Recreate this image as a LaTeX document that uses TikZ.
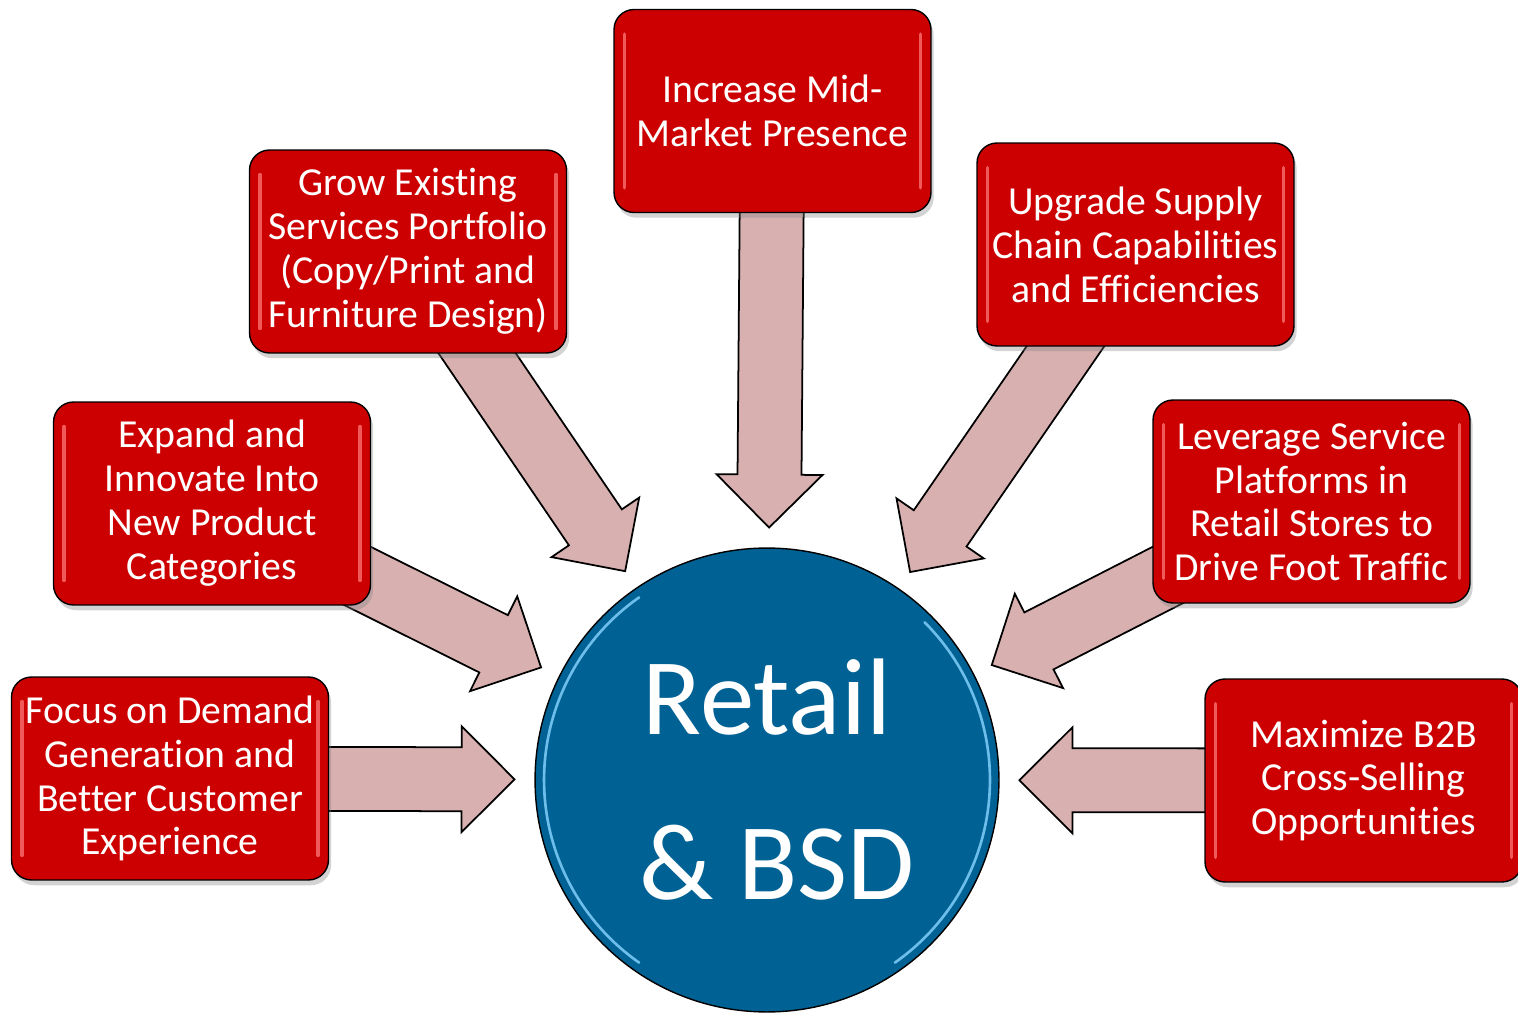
\documentclass[tikz,border=0pt]{standalone}
\usepackage{fontspec}
\setmainfont{Carlito}[Ligatures=NoCommon]
\usepackage{tikz}
\usetikzlibrary{calc}
\usetikzlibrary{positioning}
\usetikzlibrary{shadows,backgrounds}

\definecolor{boxRed}{RGB}{204,0,0}
\definecolor{boxShineRed}{RGB}{240,90,90}
\definecolor{hubBlue}{RGB}{0,98,148}
\definecolor{hubShine}{RGB}{110,190,235}
\definecolor{arrowPink}{RGB}{217,176,176}

\begin{document}
\begin{tikzpicture} [x=0.02cm, y=-0.02cm]
            % Set primary nodes
            \tikzset{
                goalNode/.style={
                        draw=black,
                        line width=0.8pt,
                        fill=boxRed,
                        rounded corners=0.4cm,
                        minimum width=6.34cm,
                        minimum height=4.06cm,
                        inner sep=2pt,
                        align=center,
                        text=white,
                        font=\fontsize{22.6}{25}\selectfont,
                        drop shadow={shadow xshift=1.5pt, shadow yshift=-3pt, opacity=0.35},
                        path picture={
                                \draw[boxShine] ([xshift=6pt,yshift=-14pt]path picture bounding box.north west) -- ([xshift=6pt,yshift=14pt]path picture bounding box.south west);
                                \draw[boxShine] ([xshift=-6pt,yshift=-14pt]path picture bounding box.north east) -- ([xshift=-6pt,yshift=14pt]path picture bounding box.south east);
                            }
                    }
            }
            \tikzset{
                boxShine/.style={
                        boxShineRed,
                        line width=2pt,
                        line cap=round
                    }
            }
            \tikzset{
                hubNode/.style={
                        draw=black,
                        line width=0.8pt,
                        circle,
                        fill=hubBlue,
                        minimum size=9.28cm,
                        align=center,
                        text=white,
                        font=\fontsize{62}{91}\selectfont
                    }
            }
            \tikzset{
                fatArrow/.style={
                        draw=black,
                        line width=1pt,
                        fill=arrowPink
                    }
            }
            % Placing nodes
            \useasboundingbox (0,0) rectangle (1518,1013);
            \node[hubNode](hub) at (767,780){\raisebox{0.2cm}{Retail}\\[-0.1cm]\hspace*{0.4cm}\& BSD};
            \node[goalNode](mid) at (772.5,111){Increase Mid-\\Market Presence};
            \node[goalNode](grow) at (408,251.5){Grow Existing\\Services Portfolio\\(Copy/Print and\\Furniture Design)};
            \node[goalNode](upgrade) at (1135.5,244.5){Upgrade Supply\\Chain Capabilities\\and Efficiencies};
            \node[goalNode](expand) at (212,503.5){Expand and\\Innovate Into\\New Product\\Categories};
            \node[goalNode](leverage) at (1311.5,501.5){Leverage Service\\Platforms in\\Retail Stores to\\Drive Foot Traffic};
            \node[goalNode](focus) at (170,778.5){Focus on Demand\\Generation and\\Better Customer\\Experience};
            \node[goalNode](maximize) at (1363.5,780.5){Maximize B2B\\Cross-Selling\\Opportunities};
            % Shine on the hub
            \draw[hubShine, line width=1.5pt, line cap=round] (hub.center) ++(125:4.46cm) arc[start angle=125, end angle=235, radius=4.46cm];
            \draw[hubShine, line width=1.5pt, line cap=round] (hub.center) ++(-55:4.46cm) arc[start angle=-55, end angle=45, radius=4.46cm];
            % Draw arrows
            \begin{pgfonlayer}{background}
            \foreach \src in {focus,expand,grow,mid,upgrade,leverage,maximize}{
                \coordinate (tip) at ($(hub.center)!5.05cm!(\src.center)$);
                \coordinate (base) at ($(tip)!1.06cm!(\src.center)$);
                \draw[fatArrow] ($(\src.center)!0.64cm!90:(tip)$) -- ($(base)!0.64cm!90:(tip)$) -- ($(base)!1.06cm!90:(tip)$) -- (tip) -- ($(base)!1.06cm!-90:(tip)$) -- ($(base)!0.64cm!-90:(tip)$) -- ($(\src.center)!0.64cm!-90:(tip)$) -- cycle;
            }
            \end{pgfonlayer}
        \end{tikzpicture}
\end{document}
